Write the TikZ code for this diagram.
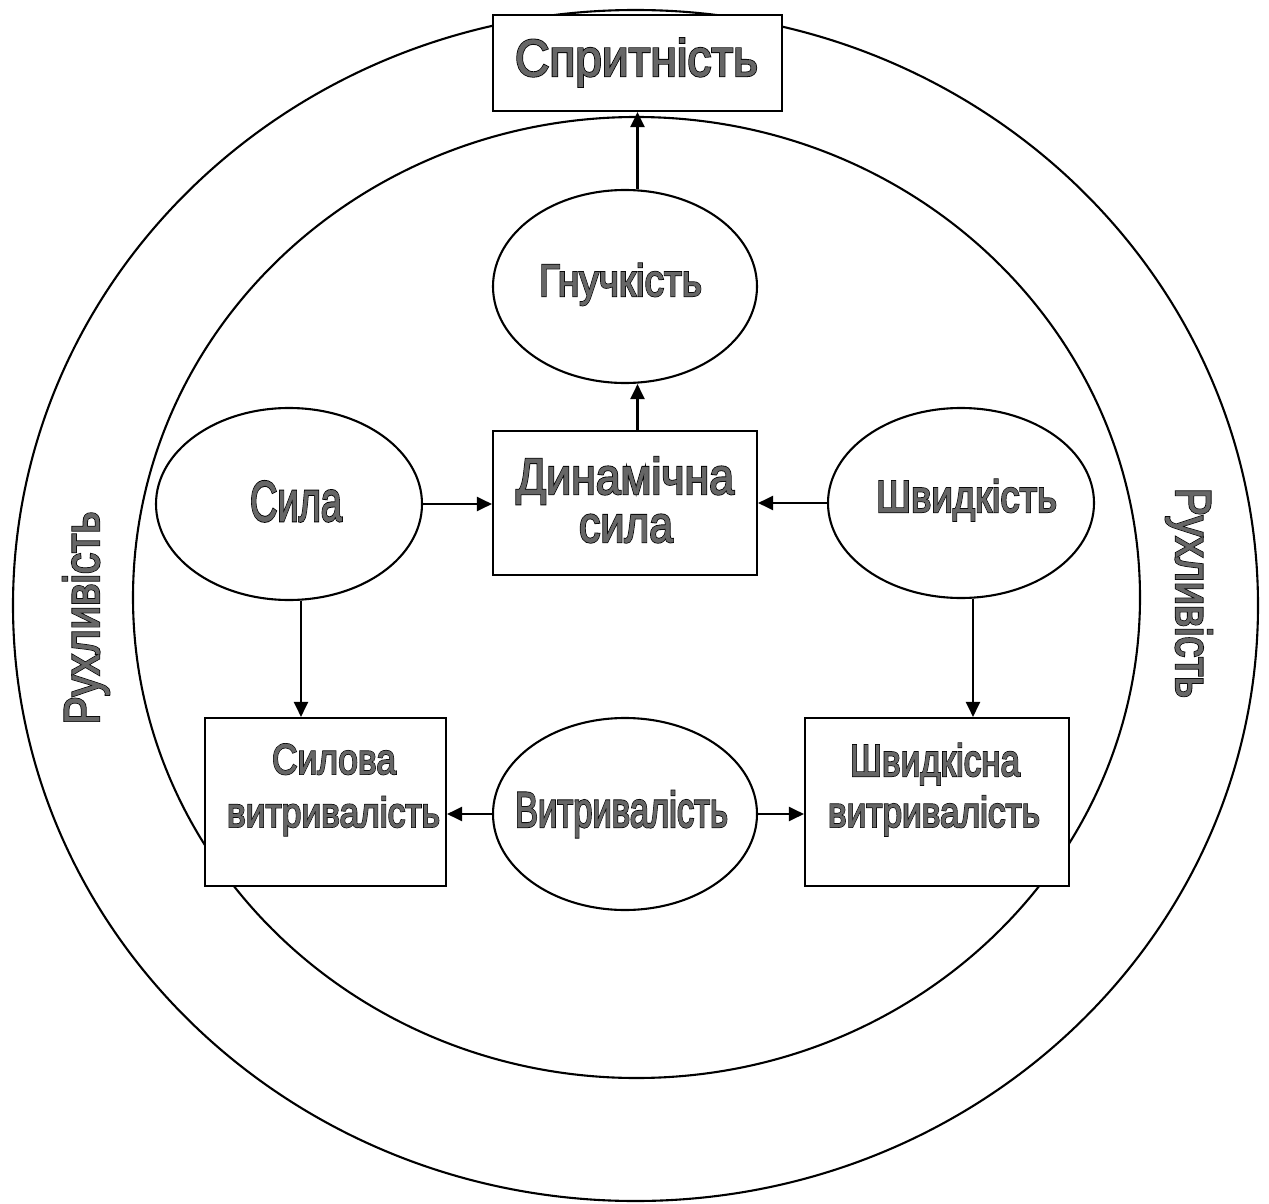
\documentclass[tikz,border=0pt]{standalone}
\usepackage{fontspec}
\usepackage{graphicx}
\usetikzlibrary{arrows.meta,shapes.geometric}
\newfontfamily\lblfont[FakeBold=1.2]{Liberation Sans}
\newfontfamily\lbloutline[FakeBold=4.5]{Liberation Sans}
\definecolor{txtgray}{gray}{0.4}
\newcommand\olt[3]{{\fontsize{#2pt}{#2pt}\selectfont\resizebox{#1pt}{\height}{\rlap{\lbloutline\color{black}#3}{\lblfont\color{txtgray}#3}}}}
\tikzset{
  lw/.style={line width=2.1pt},
  boxnode/.style={lw,draw,fill=white,rectangle,inner sep=0pt},
  ovalnode/.style={lw,draw,fill=white,ellipse,inner sep=0pt},
  txt/.style={anchor=base,inner sep=0pt},
  arr/.style={lw,-{Triangle[length=15pt,width=14pt]}},
}
\begin{document}
\begin{tikzpicture}[x=1pt,y=-1pt]
\useasboundingbox (0,0) rectangle (1269,1204);
% rings
\node[ovalnode,minimum width=1245pt,minimum height=1191pt] (outer) at (635.5,605.5) {};
\node[ovalnode,minimum width=1007pt,minimum height=961pt] (inner) at (636.5,597.5) {};
% shapes
\node[boxnode,minimum width=289pt,minimum height=96pt] (sp) at (637.5,63) {};
\node[ovalnode,minimum width=264pt,minimum height=193pt] (gn) at (625,286.5) {};
\node[boxnode,minimum width=264pt,minimum height=144pt] (din) at (625,503) {};
\node[ovalnode,minimum width=266pt,minimum height=192pt] (sila) at (289,504) {};
\node[ovalnode,minimum width=266pt,minimum height=190pt] (shv) at (961,503) {};
\node[boxnode,minimum width=241pt,minimum height=168pt] (sv) at (325.5,802) {};
\node[ovalnode,minimum width=264pt,minimum height=192pt] (vt) at (625,814) {};
\node[boxnode,minimum width=264pt,minimum height=168pt] (shvv) at (937,802) {};
% connectors
\draw[arr] (gn.north -| sp.south) -- (sp.south);
\draw[arr] (din.north -| sp.south) -- (gn.south -| sp.south);
\draw[arr] (sila.east) -- (sila.east -| din.west);
\draw[arr] (shv.west) -- (shv.west -| din.east);
\draw[arr] ([xshift=12pt]sila.south) -- ([xshift=12pt]sila.south |- sv.north);
\draw[arr] ([xshift=12pt]shv.south) -- ([xshift=12pt]shv.south |- shvv.north);
\draw[arr] (vt.west) -- (vt.west -| sv.east);
\draw[arr] (vt.east) -- (vt.east -| shvv.west);
% texts
\node[txt] (tsp) at (636.5,76) {\olt{243}{52}{Спритність}};
\node[txt] (tgn) at (620.5,296) {\olt{163}{45}{Гнучкість}};
\node[txt] (tsila) at (296,521) {\olt{92}{57}{Сила}};
\node[txt] (tdin1) at (625,494) {\olt{218}{51}{Динамічна}};
\node[txt] (tdin2) at (626,542) {\olt{94}{51}{сила}};
\node[txt] (tshv) at (966.5,512) {\olt{181}{45}{Швидкість}};
\node[txt] (tsv1) at (334,774) {\olt{124}{43}{Силова}};
\node[txt] (tsv2) at (333.5,827) {\olt{213}{42}{витривалість}};
\node[txt] (tvt) at (621.5,827) {\olt{213}{50}{Витривалість}};
\node[txt] (tshvv1) at (935,776) {\olt{170}{45}{Швидкісна}};
\node[txt] (tshvv2) at (934,827) {\olt{212}{43}{витривалість}};
\node[txt,rotate=90] (trl) at (99,618) {\olt{213}{50}{Рухливість}};
\node[txt,rotate=-90] (trr) at (1176,593) {\olt{210}{50}{Рухливість}};
\end{tikzpicture}
\end{document}
